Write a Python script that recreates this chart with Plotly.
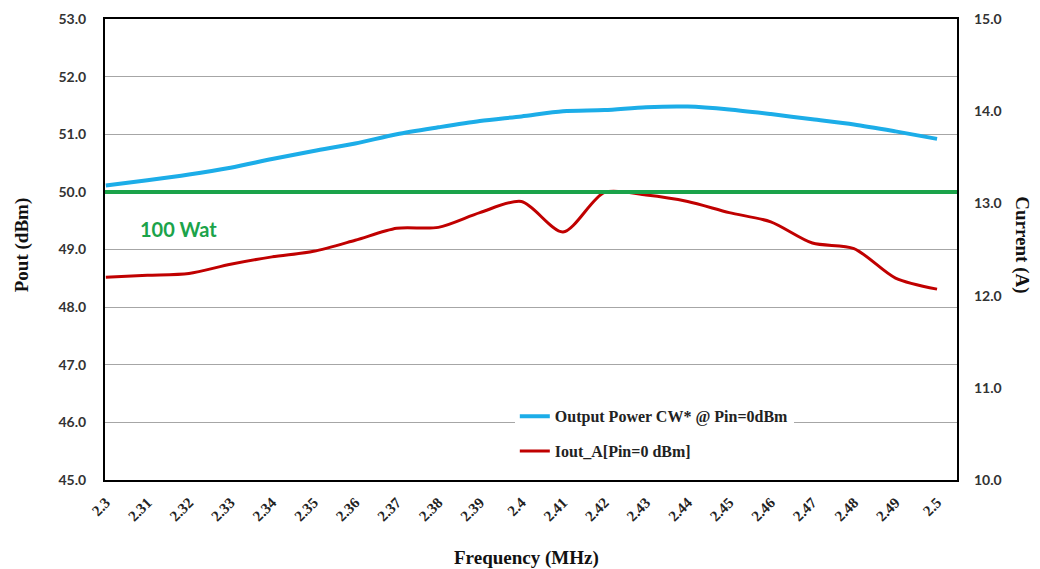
import plotly.graph_objects as go

freq = [2.30, 2.31, 2.32, 2.33, 2.34, 2.35, 2.36, 2.37, 2.38, 2.39, 2.40,
        2.41, 2.42, 2.43, 2.44, 2.45, 2.46, 2.47, 2.48, 2.49, 2.50]
freq_labels = ["2.3", "2.31", "2.32", "2.33", "2.34", "2.35", "2.36", "2.37", "2.38", "2.39", "2.4",
               "2.41", "2.42", "2.43", "2.44", "2.45", "2.46", "2.47", "2.48", "2.49", "2.5"]
pout_dbm = [50.11, 50.20, 50.30, 50.42, 50.57, 50.71, 50.84, 51.00, 51.12, 51.23, 51.31,
            51.40, 51.42, 51.47, 51.48, 51.43, 51.35, 51.26, 51.17, 51.05, 50.92]
iout_a = [12.20, 12.22, 12.24, 12.34, 12.42, 12.48, 12.60, 12.73, 12.74, 12.90, 13.02,
          12.69, 13.12, 13.09, 13.02, 12.90, 12.80, 12.57, 12.51, 12.19, 12.07]
threshold_dbm = 50.0
threshold_label = "100 Wat"
left_ticks = [45, 46, 47, 48, 49, 50, 51, 52, 53]
right_ticks = [10, 11, 12, 13, 14, 15]

serif = "Liberation Serif"
sans = "Lato"

fig = go.Figure()
fig.add_trace(go.Scatter(
    x=freq, y=pout_dbm, mode="lines", name="Output Power CW* @ Pin=0dBm",
    line=dict(color="#1CADE8", width=4, shape="spline", smoothing=0.8),
    legendgroup="a"))
fig.add_trace(go.Scatter(
    x=freq, y=iout_a, mode="lines", name="Iout_A[Pin=0 dBm]", yaxis="y2",
    line=dict(color="#C00000", width=3, shape="spline", smoothing=0.8),
    legendgroup="b"))

fig.add_shape(type="line", xref="paper", x0=0, x1=1, yref="y", y0=threshold_dbm, y1=threshold_dbm,
              line=dict(color="#1BA34A", width=4), layer="above")

fig.add_annotation(text=threshold_label, xref="paper", yref="y", x=0.039, y=49.36,
                   xanchor="left", yanchor="middle", showarrow=False,
                   font=dict(family=sans, size=20, color="#1BA34A", weight="bold"))

fig.add_annotation(text="Frequency (MHz)", xref="paper", yref="paper", x=0.495, y=-0.17,
                   xanchor="center", yanchor="middle", showarrow=False,
                   font=dict(family=serif, size=19, color="#111", weight="bold"))
fig.add_annotation(text="Pout (dBm)", xref="paper", yref="paper", x=-0.097, y=0.51,
                   xanchor="center", yanchor="middle", showarrow=False, textangle=-90,
                   font=dict(family=serif, size=19, color="#111", weight="bold"))
fig.add_annotation(text="Current (A)", xref="paper", yref="paper", x=1.077, y=0.51,
                   xanchor="center", yanchor="middle", showarrow=False, textangle=90,
                   font=dict(family=serif, size=19, color="#111", weight="bold"))

fig.update_layout(
    width=1040, height=569,
    margin=dict(l=105, r=83, t=19, b=89, autoexpand=False),
    plot_bgcolor="white", paper_bgcolor="white",
    showlegend=True,
    legend=dict(x=0.481, y=0.175, xanchor="left", yanchor="top",
                bgcolor="white", borderwidth=0, traceorder="grouped", tracegroupgap=11,
                font=dict(family=serif, size=16, color="#222", weight="bold")),
    xaxis=dict(range=[2.2998, 2.5048], tickvals=freq, ticktext=freq_labels, tickangle=-45,
               showgrid=False, zeroline=False, showline=True, linecolor="black", linewidth=2,
               mirror=True, ticks="", ticklabelstandoff=6, automargin=False,
               tickfont=dict(family=serif, size=15, color="#222", weight="bold")),
    yaxis=dict(range=[45, 53], tickvals=left_ticks, tickformat=".1f",
               showgrid=True, gridcolor="#A6A6A6", gridwidth=1, zeroline=False,
               showline=True, linecolor="black", linewidth=2, mirror=True, ticks="",
               ticklabelstandoff=14, automargin=False,
               tickfont=dict(family=sans, size=14, color="#333", weight="bold")),
    yaxis2=dict(range=[10, 15], tickvals=right_ticks, tickformat=".1f", overlaying="y", side="right",
                showgrid=False, zeroline=False, showline=False, ticks="", ticklabelstandoff=16,
                automargin=False,
                tickfont=dict(family=sans, size=14, color="#333", weight="bold")),
)

fig.write_html("out.html", config={"displayModeBar": False},
               post_script="document.body.style.margin='0';document.body.style.overflow='hidden';")
